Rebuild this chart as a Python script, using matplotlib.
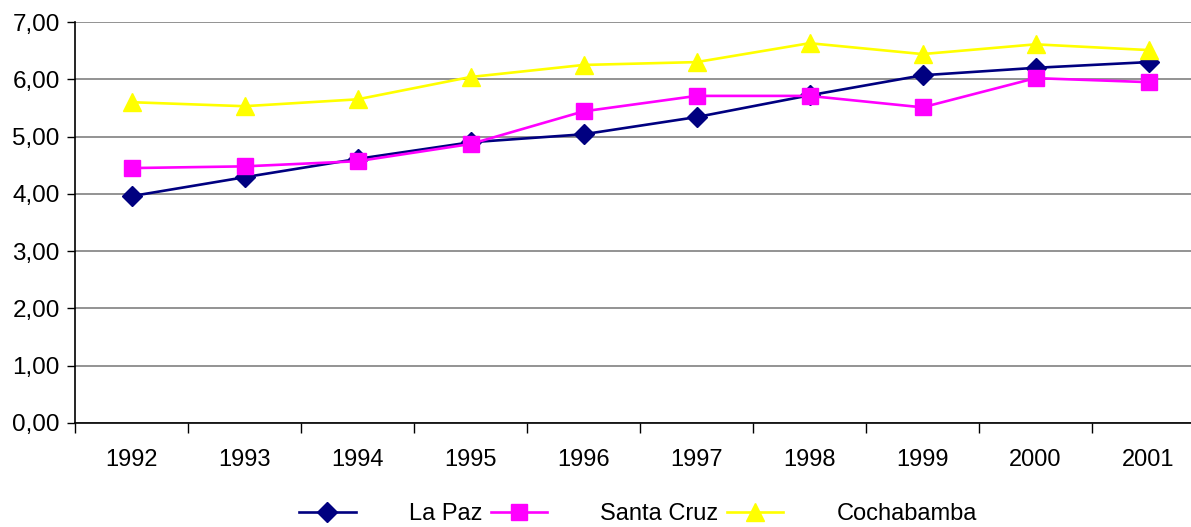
import matplotlib.pyplot as plt
from matplotlib.ticker import FuncFormatter

plt.rcParams['font.family'] = ['Liberation Sans', 'DejaVu Sans']

years = ['1992', '1993', '1994', '1995', '1996', '1997', '1998', '1999', '2000', '2001']
la_paz = [3.96, 4.29, 4.61, 4.90, 5.04, 5.34, 5.72, 6.07, 6.20, 6.30]
santa_cruz = [4.45, 4.48, 4.57, 4.87, 5.44, 5.71, 5.71, 5.51, 6.02, 5.95]
cochabamba = [5.60, 5.53, 5.65, 6.04, 6.25, 6.30, 6.63, 6.44, 6.61, 6.51]

W, H = 1191, 527
fig = plt.figure(figsize=(W / 100, H / 100), dpi=100)
# plot area runs a little past the right edge, as in the original
ax = fig.add_axes([75 / W, (H - 423) / H, 1130 / W, 401 / H])

x = range(len(years))
ax.plot(x, la_paz, color='#000080', lw=1.9, marker='D', ms=10, label='La Paz')
ax.plot(x, santa_cruz, color='#FF00FF', lw=1.9, marker='s', ms=11, label='Santa Cruz')
ax.plot(x, cochabamba, color='#FFFF00', lw=1.9, marker='^', ms=13, label='Cochabamba')

ax.set_ylim(0, 7)
ax.set_xlim(-0.5, len(years) - 0.5)
ax.set_yticks(range(0, 8))
ax.yaxis.set_major_formatter(FuncFormatter(lambda v, p: f'{v:.2f}'.replace('.', ',')))
ax.grid(axis='y', color='#808080', lw=1.2)
ax.set_axisbelow(True)

ax.set_xticks(list(x))
ax.set_xticklabels(years)
ax.set_xticks([i - 0.5 for i in range(len(years) + 1)], minor=True)
ax.tick_params(axis='x', which='major', length=0, pad=19, labelsize=17)
ax.tick_params(axis='x', which='minor', length=7, width=1, color='black')
ax.tick_params(axis='y', length=6, width=1, pad=5, labelsize=17.5)

for side in ['top', 'right']:
    ax.spines[side].set_visible(False)
for side in ['left', 'bottom']:
    ax.spines[side].set_color('black')
    ax.spines[side].set_linewidth(1.2)

fig.legend(loc='center', bbox_to_anchor=(638 / W, 13 / H), ncol=3, frameon=False,
           fontsize=17, handlelength=2.4, handletextpad=2.25, columnspacing=0.35,
           borderpad=0.1)

fig.savefig('out.png', dpi=100, facecolor='white')
